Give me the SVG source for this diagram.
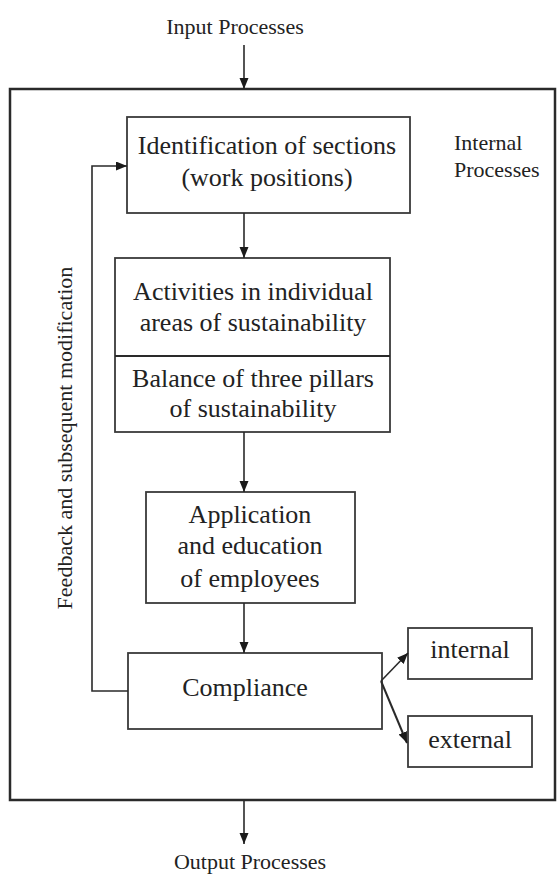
<svg xmlns="http://www.w3.org/2000/svg" width="557" height="875" viewBox="0 0 557 875">
<style>
  .box { fill: #fff; stroke: #3a3a3a; stroke-width: 1.8; }
  .frame { fill: none; stroke: #2a2a2a; stroke-width: 2.5; }
  .conn { fill: none; stroke: #2a2a2a; stroke-width: 1.6; }
  .main { font-family: "Liberation Serif", "Times New Roman", serif; font-size: 26px; fill: #222; text-anchor: middle; }
  .lbl { font-family: "Liberation Serif", "Times New Roman", serif; font-size: 22px; fill: #222; }
</style>
<defs>
  <marker id="ah" markerUnits="userSpaceOnUse" markerWidth="12" markerHeight="10" refX="11" refY="4.5" orient="auto">
    <path d="M0,0 L11,4.5 L0,9 z" fill="#1a1a1a"/>
  </marker>
</defs>
<rect width="557" height="875" fill="#fff"/>

<g id="frame">
  <rect class="frame" x="10" y="89" width="545" height="711"/>
  <text class="lbl" x="454" y="150">Internal</text>
  <text class="lbl" x="454" y="177">Processes</text>
</g>

<g id="input">
  <text class="lbl" x="235" y="34" text-anchor="middle">Input Processes</text>
</g>
<g id="output">
  <text class="lbl" x="250" y="869" text-anchor="middle">Output Processes</text>
</g>

<g id="identification">
  <rect class="box" x="127" y="117" width="283" height="96"/>
  <text class="main" x="267" y="154">Identification of sections</text>
  <text class="main" x="267" y="186">(work positions)</text>
</g>

<g id="activities">
  <rect class="box" x="115" y="258" width="275" height="174"/>
  <line class="conn" x1="115" y1="356" x2="390" y2="356" style="stroke-width:1.8"/>
  <text class="main" x="253" y="300">Activities in individual</text>
  <text class="main" x="253" y="331">areas of sustainability</text>
  <text class="main" x="253" y="387">Balance of three pillars</text>
  <text class="main" x="253" y="417">of sustainability</text>
</g>

<g id="application">
  <rect class="box" x="146" y="492" width="209" height="111"/>
  <text class="main" x="250" y="523">Application</text>
  <text class="main" x="250" y="554">and education</text>
  <text class="main" x="250" y="587">of employees</text>
</g>

<g id="compliance">
  <rect class="box" x="128" y="653" width="254" height="76"/>
  <text class="main" x="245" y="696">Compliance</text>
</g>

<g id="internal">
  <rect class="box" x="408" y="628" width="124" height="51"/>
  <text class="main" x="470" y="658">internal</text>
</g>

<g id="external">
  <rect class="box" x="408" y="716" width="124" height="51"/>
  <text class="main" x="470" y="748">external</text>
</g>

<g id="feedback-label">
  <text class="lbl" transform="translate(72,438) rotate(-90)" text-anchor="middle">Feedback and subsequent modification</text>
</g>

<g id="connectors">
  <line class="conn" x1="244" y1="45" x2="244" y2="89" marker-end="url(#ah)"/>
  <line class="conn" x1="244" y1="213" x2="244" y2="258" marker-end="url(#ah)"/>
  <line class="conn" x1="244" y1="432" x2="244" y2="492" marker-end="url(#ah)"/>
  <line class="conn" x1="244" y1="603" x2="244" y2="653" marker-end="url(#ah)"/>
  <line class="conn" x1="244" y1="800" x2="244" y2="844" marker-end="url(#ah)"/>
  <path class="conn" d="M128,691 H92 V166 H127" marker-end="url(#ah)"/>
  <line class="conn" x1="381" y1="681" x2="408" y2="653" marker-end="url(#ah)"/>
  <line class="conn" x1="381" y1="681" x2="407" y2="743" marker-end="url(#ah)" style="stroke-width:2"/>
</g>
</svg>
